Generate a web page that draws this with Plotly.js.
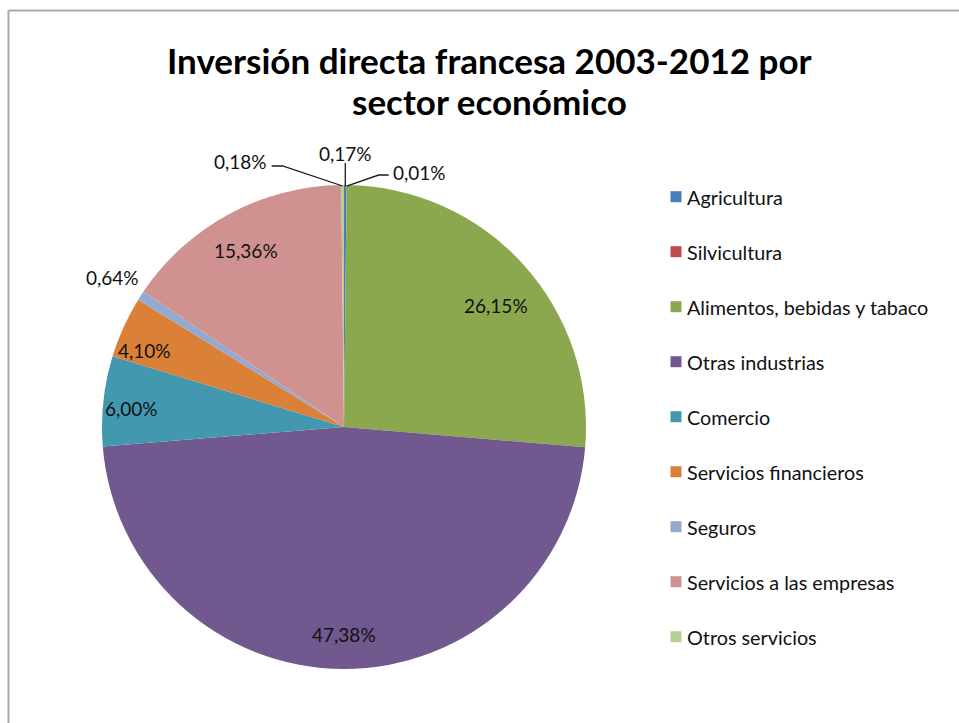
<!DOCTYPE html>
<html>
<head>
<meta charset="utf-8">
<script src="https://cdn.plot.ly/plotly-3.0.1.min.js"></script>
<style>html,body{margin:0;padding:0;background:#fff;}#chart{width:959px;height:723px;}</style>
</head>
<body>
<div id="chart"></div>
<script>
// ---- data ----
const categories = ["Agricultura", "Silvicultura", "Alimentos, bebidas y tabaco", "Otras industrias",
  "Comercio", "Servicios financieros", "Seguros", "Servicios a las empresas", "Otros servicios"];
const shares = [0.17, 0.01, 26.15, 47.38, 6.00, 4.10, 0.64, 15.36, 0.18];
const colors = ["#4A7EBB", "#BE4B48", "#8BA84E", "#71588F", "#4198AF", "#DA8137", "#93A9CF", "#D09291", "#B9CD96"];
const titleLines = ["Inversión directa francesa 2003-2012 por", "sector económico"];

// ---- layout / style constants ----
const W = 959, H = 723;
const CX = 344, CY = 427, R = 242;
const FONT = "Lato, 'DejaVu Sans', sans-serif";
const labelFont = {family: FONT, size: 19, color: "#111"};
const legendFont = {family: FONT, size: 19.8, color: "#111"};
const titleFont = {family: FONT, size: 35, color: "#000", weight: "bold"};
const titleYs = [60, 101];
const insideFactor = 0.85;
// label placement styles per slice index
const labelStyle = {
  0: {mode: "leader", lx: 0, ly: -33, anchor: "center", path: "v"},
  1: {mode: "leader", lx: 44, ly: -14, anchor: "left", path: "kinkR"},
  2: {mode: "inside", dx: 0, dy: 17},
  3: {mode: "inside", dx: 0, dy: 2},
  4: {mode: "inside", dx: -8, dy: 4},
  5: {mode: "inside", dx: -12, dy: 8},
  6: {mode: "outside", f: 1.14},
  7: {mode: "inside", dx: 0, dy: 5},
  8: {mode: "leader", lx: -74, ly: -25, anchor: "right", path: "kinkL"}
};

const px = x => x / W;
const py = y => 1 - y / H;

const total = shares.reduce((a, b) => a + b, 0);
const fmt = v => v.toFixed(2).replace(".", ",") + "%";

const annotations = [];
const shapes = [];

// title (two centred lines)
titleLines.forEach((t, i) => {
  annotations.push({xref: "paper", yref: "paper", x: px(489), y: py(titleYs[i]), text: t, showarrow: false,
    xanchor: "center", yanchor: "middle", font: titleFont});
});

// border (top and left)
shapes.push({type: "line", xref: "paper", yref: "paper", x0: px(8.5), x1: 1.01, y0: py(10.5), y1: py(10.5), line: {color: "#A8A8A8", width: 2}});
shapes.push({type: "line", xref: "paper", yref: "paper", x0: px(8.5), x1: px(8.5), y0: py(10.5), y1: -0.01, line: {color: "#A8A8A8", width: 2}});

// data labels, positions derived from the slice angles
let cum = 0;
shares.forEach((v, i) => {
  const mid = (cum + v / 2) / total * 2 * Math.PI;
  cum += v;
  const st = labelStyle[i];
  const s = Math.sin(mid), c = Math.cos(mid);
  if (st.mode === "inside" || st.mode === "outside") {
    const f = st.mode === "inside" ? insideFactor : st.f;
    const x = CX + R * f * s + (st.dx || 0);
    const y = CY - R * f * c + (st.dy || 0);
    annotations.push({xref: "paper", yref: "paper", x: px(x), y: py(y), text: fmt(v), showarrow: false,
      xanchor: "center", yanchor: "middle", font: labelFont});
  } else {
    const ax = CX + R * s, ay = CY - R * c + 1;
    const tx = ax + st.lx, ty = ay + st.ly;
    annotations.push({xref: "paper", yref: "paper", x: px(tx), y: py(ty), text: fmt(v), showarrow: false,
      xanchor: st.anchor, yanchor: "middle", font: labelFont});
    let path;
    if (st.path === "v") {
      path = `M ${px(ax)} ${py(ty + 10)} L ${px(ax)} ${py(ay)}`;
    } else if (st.path === "kinkR") {
      path = `M ${px(tx - 2)} ${py(ty + 3)} L ${px(tx - 12)} ${py(ty + 3)} L ${px(ax)} ${py(ay)}`;
    } else {
      path = `M ${px(tx + 3)} ${py(ty + 5)} L ${px(tx + 14)} ${py(ty + 5)} L ${px(ax)} ${py(ay)}`;
    }
    shapes.push({type: "path", xref: "paper", yref: "paper", path: path, line: {color: "#1a1a1a", width: 1.3}});
  }
});

// legend (custom, to reproduce the wide spacing)
const legX = 670.5, legY0 = 196.7, legStep = 55, sq = 11;
categories.forEach((name, i) => {
  const y = legY0 + i * legStep;
  shapes.push({type: "rect", xref: "paper", yref: "paper", x0: px(legX), x1: px(legX + sq),
    y0: py(y + sq / 2), y1: py(y - sq / 2), fillcolor: colors[i], line: {width: 0}});
  annotations.push({xref: "paper", yref: "paper", x: px(legX + sq + 3.5), y: py(y), text: name,
    showarrow: false, xanchor: "left", yanchor: "middle", font: legendFont});
});

const trace = {
  type: "pie",
  labels: categories,
  values: shares,
  sort: false,
  direction: "clockwise",
  rotation: 0,
  textinfo: "none",
  hoverinfo: "label+percent",
  marker: {colors: colors, line: {color: "#ffffff", width: 0}},
  domain: {x: [px(CX - R), px(CX + R)], y: [py(CY + R), py(CY - R)]},
  showlegend: false
};

const layout = {
  width: W, height: H,
  margin: {l: 0, r: 0, t: 0, b: 0},
  paper_bgcolor: "#ffffff",
  showlegend: false,
  annotations: annotations,
  shapes: shapes
};

Plotly.newPlot("chart", [trace], layout, {displayModeBar: false, staticPlot: true});
</script>
</body>
</html>
